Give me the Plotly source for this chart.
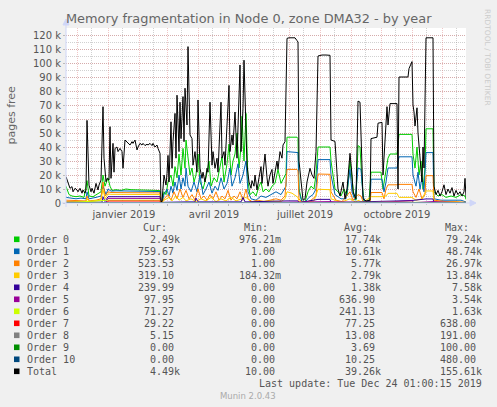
import pandas as pd
import plotly.graph_objects as go

# ---------------- data: (day offset from START, value in thousands of pages) ----------------
START = pd.Timestamp("2018-11-19 01:00:00")
END = pd.Timestamp("2019-12-24 01:00:00")

SERIES_NAMES = ["Order 0", "Order 1", "Order 2", "Order 3", "Order 4", "Order 5",
                "Order 6", "Order 7", "Order 8", "Order 9", "Order 10", "Total"]
SERIES_COLORS = ["#00CC00", "#0066B3", "#FF8000", "#FFCC00", "#330099", "#990099",
                 "#CCFF00", "#FF0000", "#808080", "#008F00", "#00487D", "#000000"]

ORDER0 = [(0, 12), (3, 6), (6, 5), (10, 4.5), (14, 5), (18, 4), (21, 16), (23, 5), (27, 4.5),
          (31, 6), (35, 8), (37, 20), (39, 12), (42, 18), (44, 12), (46, 9), (50, 9.5), (55, 9),
          (60, 10), (65, 9.5), (70, 9.5), (75, 9), (80, 9.3), (85, 9), (90, 9), (94, 8.8),
          (95, 0.5), (96, 0.5), (98, 8), (100, 6), (102, 15), (105, 20), (107, 12), (109, 26),
          (111, 18), (113, 35), (115, 20), (117, 39), (119, 25), (120, 45), (122, 30), (124, 20),
          (126, 25), (128, 15), (130, 20), (132, 35), (134, 15), (137, 10), (140, 18), (143, 30),
          (145, 12), (148, 18), (151, 15), (154, 25), (156, 33), (158, 15), (161, 28), (163, 42),
          (165, 20), (167, 30), (169, 35), (171, 50), (173, 25), (175, 40), (176, 62), (178, 30),
          (180, 64), (182, 15), (184, 6), (187, 8), (190, 5), (193, 12), (195, 15), (197, 8),
          (200, 10), (203, 8), (206, 12), (209, 14), (212, 24), (215, 14), (218, 18), (220, 21),
          (221, 47), (226, 47), (231, 47), (232, 46), (233, 10), (236, 1), (239, 1), (242, 8),
          (245, 12), (248, 10), (250, 20), (252, 40), (258, 40), (264, 40), (265, 30), (269, 10),
          (272, 8), (275, 5), (278, 10), (281, 5), (284, 30), (286, 15), (288, 5), (290, 2),
          (292, 41), (294, 40), (296, 15), (298, 1), (303, 1), (305, 22), (310, 22), (315, 22),
          (317, 10), (319, 20), (322, 32), (324, 35), (331, 35), (333, 49), (340, 49), (346, 49),
          (347, 35), (349, 25), (351, 40), (353, 20), (355, 30), (357, 10), (359, 25), (360, 53),
          (366, 53), (367, 53), (368, 8), (372, 5), (376, 6), (380, 4), (385, 5), (390, 4),
          (395, 6), (399, 5), (400, 2.5)]

ORDER1 = [(0, 4), (5, 3.5), (10, 3), (15, 3.5), (20, 3), (21, 8), (23, 3), (30, 4), (35, 5),
          (37, 12), (40, 6), (42, 10), (45, 8.5), (50, 8.7), (60, 8.5), (70, 8.6), (80, 8.5),
          (90, 8.3), (94, 8.2), (95, 0.3), (96, 0.3), (98, 6), (101, 10), (103, 5), (105, 12),
          (107, 7), (109, 15), (111, 9), (113, 20), (115, 10), (117, 18), (119, 12), (120, 25),
          (122, 12), (125, 8), (128, 15), (131, 8), (134, 20), (137, 6), (140, 10), (143, 15),
          (146, 7), (149, 12), (152, 9), (155, 18), (158, 10), (161, 14), (164, 25), (166, 12),
          (169, 18), (172, 28), (174, 14), (177, 20), (180, 30), (182, 8), (185, 3), (190, 2),
          (195, 5), (200, 4), (205, 6), (210, 8), (215, 6), (218, 10), (220, 12), (221, 36.7),
          (231, 36.5), (232, 36), (233, 8), (236, 0.5), (239, 0.5), (243, 4), (247, 6), (250, 10),
          (252, 31), (264, 31), (265, 20), (269, 6), (275, 3), (280, 3), (284, 24), (286, 8),
          (289, 2), (292, 25), (295, 24), (297, 5), (299, 0.5), (304, 0.5), (305, 17), (316, 17),
          (318, 8), (320, 15), (322, 25), (331, 25), (333, 33), (346, 33), (347, 20), (350, 12),
          (352, 22), (354, 10), (356, 18), (358, 8), (360, 36), (367, 36), (368, 3), (375, 2),
          (385, 2), (395, 2), (400, 0.76)]

ORDER2 = [(0, 2), (10, 1.5), (20, 1.5), (21, 5), (23, 1.5), (30, 2), (35, 3), (37, 15), (39, 5),
          (42, 8), (45, 7.5), (55, 7.4), (70, 7.5), (85, 7.3), (94, 7.2), (95, 0.2), (96, 0.2),
          (98, 3), (102, 6), (105, 2), (108, 8), (111, 3), (114, 10), (117, 4), (120, 9), (123, 3),
          (126, 6), (129, 2), (132, 10), (135, 3), (138, 5), (141, 2), (144, 6), (147, 3), (150, 8),
          (153, 2), (156, 5), (159, 3), (162, 9), (165, 2), (168, 5), (171, 3), (174, 8), (177, 2),
          (180, 10), (182, 3), (186, 1), (192, 2), (198, 1), (204, 2), (210, 3), (215, 2), (219, 5),
          (221, 24), (231, 24), (232, 23), (233, 3), (236, 0.3), (240, 0.5), (245, 2), (250, 5),
          (252, 20.7), (264, 20.5), (265, 8), (270, 2), (276, 1), (284, 8), (287, 2), (292, 6),
          (295, 5), (297, 1), (304, 0.5), (305, 7.5), (316, 7.5), (318, 3), (320, 10), (322, 13),
          (331, 13), (333, 13.3), (346, 13.3), (347, 8), (350, 4), (353, 10), (356, 3), (359, 6),
          (360, 19.5), (367, 19.5), (368, 2), (380, 1), (390, 1), (400, 0.52)]

ORDER3 = [(0, 1), (20, 1), (21, 3), (23, 1), (35, 2), (37, 10), (39, 3), (42, 6.5), (45, 6.2),
          (94, 6), (95, 0.2), (96, 0.2), (98, 2), (103, 4), (106, 1.5), (110, 5), (113, 2),
          (117, 4), (120, 1.5), (125, 3), (130, 1), (135, 3), (140, 1.5), (145, 4), (150, 1),
          (155, 3), (160, 1.5), (165, 4), (170, 1.5), (175, 3), (180, 4), (185, 0.8), (195, 1),
          (205, 1.5), (215, 1), (219, 3), (221, 8), (226, 7), (231, 4.5), (232, 4), (233, 1),
          (240, 0.3), (248, 1.5), (252, 9.8), (264, 9.5), (265, 3), (275, 0.5), (284, 3), (290, 0.5),
          (292, 2), (297, 0.3), (305, 4.5), (316, 4.5), (320, 5), (322, 6.9), (331, 6.9), (333, 4),
          (346, 4), (350, 2), (356, 3), (360, 8.6), (367, 8.6), (368, 1), (400, 0.32)]

ORDER4 = [(0, 0.5), (20, 0.5), (21, 1), (36, 0.6), (37, 4.5), (39, 1), (42, 4.5), (94, 4.5),
          (95, 0.1), (98, 0.5), (120, 0.8), (129, 0.8), (130, 3.5), (132, 0.8), (150, 0.8),
          (175, 0.8), (177, 4), (179, 0.8), (221, 1.5), (232, 1.5), (233, 0.2), (252, 2.6),
          (264, 2.6), (265, 0.3), (305, 1), (331, 1), (333, 1.5), (346, 1.8), (360, 2.9),
          (367, 2.9), (368, 0.3), (400, 0.24)]

ORDER5 = [(0, 0.3), (40, 0.3), (42, 3.3), (94, 3.3), (95, 0.1), (98, 0.3), (200, 0.3),
          (221, 0.6), (232, 0.6), (252, 1), (264, 1), (300, 0.2), (333, 1), (346, 1.5),
          (348, 0.3), (360, 1), (367, 1), (400, 0.1)]

ORDER6 = [(0, 0.1), (42, 2), (94, 2), (95, 0.1), (221, 0.3), (333, 0.5), (346, 0.5), (400, 0.07)]

ORDER7 = [(0, 0.1), (41, 0.1), (42, 1.4), (94, 1.4), (95, 0.0), (400, 0.03)]

ORDER8 = [(0, 0.02), (42, 0.05), (94, 0.05), (95, 0.0), (400, 0.005)]

ORDER9 = [(0, 0.0), (42, 0.01), (94, 0.01), (95, 0.0), (400, 0.0)]

ORDER10 = [(0, 0.0), (42, 0.03), (94, 0.03), (95, 0.0), (400, 0.0)]

TOTAL = [(0, 18.8), (2, 15), (4, 10.5), (6, 11.7), (7, 8), (9, 10.5), (11, 9.3), (12, 8),
         (14, 10.5), (16, 7), (17, 9.3), (19, 7), (20, 9.3), (21, 59), (23, 12.8), (25, 8),
         (26, 10.5), (28, 7), (30, 14), (32, 9.3), (33, 12.8), (35, 16.4), (37, 68.8), (38, 32),
         (40, 15.2), (41, 17.6), (43, 16.4), (44, 54.5), (45, 17.6), (47, 42.6), (48, 22), (49, 39),
         (51, 40), (52, 36.7), (54, 39), (56, 36.7), (57, 24.8), (59, 45), (61, 43.8), (62, 42.6),
         (64, 41.4), (66, 43.8), (67, 42.6), (69, 45), (71, 37.9), (72, 40), (74, 42.6), (76, 41.4),
         (77, 42.6), (79, 41), (81, 42), (82, 41.4), (84, 42.6), (86, 41), (87, 42.6), (89, 40),
         (91, 41.4), (92, 39), (94, 35.5), (95, 1), (96, 1), (98, 20), (100, 12.8), (101, 21),
         (102, 34), (103, 15), (105, 58), (106, 24.8), (107, 43.8), (109, 64), (110, 32), (111, 77),
         (113, 36.7), (114, 72), (115, 46), (117, 76), (118, 43.8), (119, 82), (121, 55.7),
         (122, 111.7), (124, 48.6), (126, 46), (127, 27), (129, 36.7), (131, 22), (132, 73.6),
         (134, 24.8), (136, 17.6), (137, 22), (139, 15), (141, 24.8), (142, 22), (144, 72), (146, 27),
         (147, 36.7), (149, 24.8), (151, 32), (152, 22), (154, 53), (155, 72), (156, 32), (158, 36.7),
         (159, 27), (161, 55.7), (163, 84), (164, 36.7), (166, 48.6), (167, 41.4), (169, 65),
         (171, 32), (172, 55.7), (174, 98.6), (175, 36.7), (177, 67.6), (178, 102), (180, 43.8),
         (181, 27), (183, 15), (185, 10.5), (186, 16), (188, 12), (189, 20), (191, 9.3), (193, 18),
         (195, 26), (196, 14), (197, 22), (199, 35), (201, 18), (202, 12), (204, 20), (206, 24),
         (207, 14), (209, 22), (211, 30), (212, 24), (214, 36.7), (216, 32), (217, 41.4), (219, 43.8),
         (221, 117.6), (223, 118), (226, 118), (229, 118), (231, 116), (232, 115), (233, 30),
         (235, 15), (237, 2), (239, 3), (241, 15), (244, 24.8), (246, 20), (248, 17.6), (249, 27),
         (250, 36.7), (252, 105), (256, 105.7), (260, 105.7), (264, 105.5), (265, 45), (269, 44),
         (272, 10), (274, 5), (277, 15), (279, 3), (281, 10), (284, 35.5), (286, 20), (287, 8),
         (290, 3), (292, 72.8), (294, 72), (296, 30), (297, 3), (300, 1.5), (304, 2), (305, 46),
         (308, 46.5), (311, 47), (312, 57), (316, 57.6), (317, 20), (319, 48.6), (321, 68.8),
         (322, 55.7), (324, 71), (328, 71), (331, 71), (332, 10), (333, 90), (337, 90), (342, 90),
         (343, 96), (346, 101), (347, 70), (348, 65), (349, 55), (351, 68), (352, 50), (354, 35),
         (356, 15), (357, 40), (358, 25), (360, 118), (364, 118), (367, 118), (368, 12), (370, 6),
         (372, 9), (374, 5), (376, 8), (378, 13), (380, 6), (382, 10), (384, 7), (386, 11), (388, 5),
         (390, 9), (392, 6), (394, 8), (396, 5), (398, 8), (399, 17.6), (400, 4.5)]

SERIES_DATA = [ORDER0, ORDER1, ORDER2, ORDER3, ORDER4, ORDER5, ORDER6, ORDER7,
               ORDER8, ORDER9, ORDER10, TOTAL]

Y_TICK_VALUES = [0, 10000, 20000, 30000, 40000, 50000, 60000, 70000, 80000, 90000,
                 100000, 110000, 120000]
Y_TICK_LABELS = ["0", "10 k", "20 k", "30 k", "40 k", "50 k", "60 k", "70 k", "80 k",
                 "90 k", "100 k", "110 k", "120 k"]
X_LABELS = {"2019-01-01": "janvier 2019", "2019-04-01": "avril 2019",
            "2019-07-01": "juillet 2019", "2019-10-01": "octobre 2019"}

CUR = ["2.49k", "759.67", "523.53", "319.10", "239.99", "97.95", "71.27", "29.22",
       "5.15", "0.00", "0.00", "4.49k"]
MIN = ["976.21m", "1.00", "1.00", "184.32m", "0.00", "0.00", "0.00", "0.00",
       "0.00", "0.00", "0.00", "10.00"]
AVG = ["17.74k", "10.61k", "5.77k", "2.79k", "1.38k", "636.90", "241.13", "77.25",
       "13.08", "3.69", "10.25", "39.26k"]
MAX = ["79.24k", "48.74k", "26.97k", "13.84k", "7.58k", "3.54k", "1.63k", "638.00",
       "191.00", "100.00", "480.00", "155.61k"]

TITLE = "Memory fragmentation in Node 0, zone DMA32 - by year"
Y_TITLE = "pages free"
LAST_UPDATE = "Last update: Tue Dec 24 01:00:15 2019"
FOOTER = "Munin 2.0.43"
WATERMARK = "RRDTOOL / TOBI OETIKER"

# ---------------- layout geometry (pixels) ----------------
W, H = 497, 407
L, R, T, B = 66, 466, 28, 203
Y_MAX = 125000
FONT = "DejaVu Sans"
MONO = "DejaVu Sans Mono"
TXT = "#555555"


def pp(px, py):
    return (px - L) / (R - L), (B - py) / (B - T)


fig = go.Figure()
for name, color, data in zip(SERIES_NAMES, SERIES_COLORS, SERIES_DATA):
    days = [d for d, _ in data]
    vals = [v * 1000 for _, v in data]
    xs = [START + pd.Timedelta(days=d) for d in days]
    fig.add_trace(go.Scatter(x=xs, y=vals, mode="lines", name=name,
                             line=dict(color=color, width=1), hoverinfo="skip"))

month_starts = pd.date_range("2018-12-01", "2019-12-01", freq="MS")
mid_months = pd.date_range("2018-11-15", "2019-12-15", freq="SMS")
mid_months = [m for m in mid_months if m.day != 1]
tick_text = [X_LABELS.get(m.strftime("%Y-%m-%d"), "") for m in month_starts]

MGRID = "rgba(220,120,120,0.42)"
GRID = "rgba(140,140,140,0.4)"

fig.update_xaxes(
    type="date", range=[START, END], tickmode="array", tickvals=list(month_starts),
    ticktext=tick_text, ticklabelshift=15, showgrid=True, gridcolor=MGRID, gridwidth=1,
    griddash="1px,1px", ticks="outside", ticklen=2, tickcolor="#bbbbbb",
    tickfont=dict(family=FONT, size=10, color=TXT), showline=False, zeroline=False,
    minor=dict(tickmode="array", tickvals=list(mid_months), showgrid=True, gridcolor=GRID,
               griddash="1px,1px", gridwidth=1, ticks="outside", ticklen=1, tickcolor="#cccccc"),
    fixedrange=True,
)
fig.update_yaxes(
    range=[0, Y_MAX], tickmode="array", tickvals=Y_TICK_VALUES, ticktext=Y_TICK_LABELS,
    showgrid=True, gridcolor=MGRID, gridwidth=1, griddash="1px,1px", ticks="outside",
    ticklen=2, tickcolor="#bbbbbb", tickfont=dict(family=FONT, size=10, color=TXT),
    showline=False, zeroline=False,
    minor=dict(dtick=5000, tick0=0, showgrid=True, gridcolor=GRID, griddash="1px,1px",
               gridwidth=1),
    fixedrange=True,
)

shapes = []
AXIS = "#CFD6F8"
# x axis line + arrow
x0, y0 = pp(62, B)
x1, _ = pp(471, B)
shapes.append(dict(type="line", xref="paper", yref="paper", x0=x0, y0=y0, x1=x1, y1=y0,
                   line=dict(color=AXIS, width=1)))
a1 = pp(470, B - 3); a2 = pp(476, B); a3 = pp(470, B + 3)
shapes.append(dict(type="path", xref="paper", yref="paper",
                   path=f"M {a1[0]} {a1[1]} L {a2[0]} {a2[1]} L {a3[0]} {a3[1]} Z",
                   fillcolor=AXIS, line=dict(color=AXIS, width=1)))
# y axis line + arrow
ya, yb = pp(L, B + 4), pp(L, 24)
shapes.append(dict(type="line", xref="paper", yref="paper", x0=ya[0], y0=ya[1], x1=yb[0], y1=yb[1],
                   line=dict(color=AXIS, width=1)))
b1 = pp(L - 3, 25); b2 = pp(L, 19); b3 = pp(L + 3, 25)
shapes.append(dict(type="path", xref="paper", yref="paper",
                   path=f"M {b1[0]} {b1[1]} L {b2[0]} {b2[1]} L {b3[0]} {b3[1]} Z",
                   fillcolor=AXIS, line=dict(color=AXIS, width=1)))

annotations = []


def ann(text, px, py, xanchor="left", size=10, family=MONO, color=TXT, angle=0):
    xp, yp = pp(px, py)
    annotations.append(dict(text=text, x=xp, y=yp, xref="paper", yref="paper", showarrow=False,
                            xanchor=xanchor, yanchor="middle", textangle=angle, borderpad=0,
                            font=dict(family=family, size=size, color=color)))


ann(TITLE, 248.5, 18.5, xanchor="center", size=12.9, family=FONT, color="#666666")
ann(Y_TITLE, 11, 114.5, xanchor="center", size=11, family=FONT, color="#666666", angle=-90)
ann(WATERMARK, 488, 57, xanchor="center", size=7.5, family=FONT, color="#cccccc", angle=90)

# legend table
COL_EDGES = [181, 282.3, 382.3, 482.7]
HEADERS = ["Cur:", "Min:", "Avg:", "Max:"]
for h, e in zip(HEADERS, COL_EDGES):
    ann(h, e - 13, 227.7, xanchor="right")

for i, name in enumerate(SERIES_NAMES):
    yc = 239.3 + 12 * i
    s0, s1 = pp(14, yc - 2.8), pp(19.5, yc + 2.8)
    shapes.append(dict(type="rect", xref="paper", yref="paper", x0=s0[0], y0=s0[1],
                       x1=s1[0], y1=s1[1], fillcolor=SERIES_COLORS[i], line=dict(width=0)))
    ann(name, 26, yc)
    for col, e in zip([CUR, MIN, AVG, MAX], COL_EDGES):
        v = col[i]
        edge = e if v[-1].isalpha() else e - 6
        ann(v, edge, yc, xanchor="right")

ann(LAST_UPDATE, 482.7, 383.3, xanchor="right")
ann(FOOTER, 248.3, 396, xanchor="center", size=8.5, family=FONT, color="#aaaaaa")

fig.update_layout(
    width=W, height=H, autosize=False,
    margin=dict(l=L, r=W - R, t=T, b=H - B, pad=0),
    paper_bgcolor="#F0F0F0", plot_bgcolor="#FFFFFF",
    showlegend=False, shapes=shapes, annotations=annotations,
)

fig.write_html("out.html", config={"displayModeBar": False, "staticPlot": True},
               post_script="document.body.style.margin='0px';"
                           "document.body.style.padding='0px';"
                           "document.body.style.background='#F0F0F0';")
